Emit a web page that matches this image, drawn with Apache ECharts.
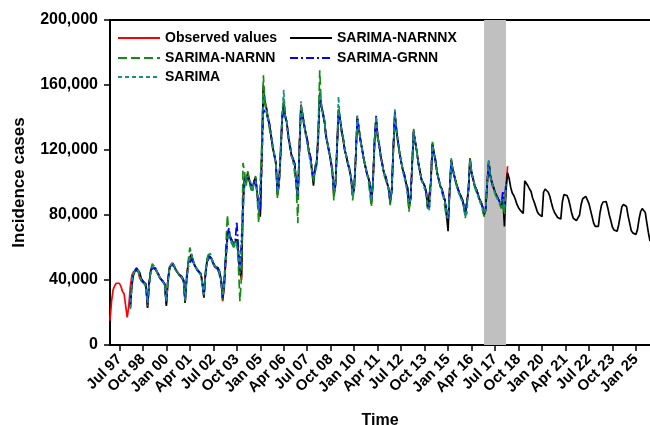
<!DOCTYPE html>
<html>
<head>
<meta charset="utf-8">
<title>Incidence cases</title>
<script src="https://cdn.jsdelivr.net/npm/echarts@6/dist/echarts.min.js"></script>
<style>
  html, body { margin: 0; padding: 0; background: #fff; }
  #chart { width: 650px; height: 425px; }
</style>
</head>
<body>
<div id="chart"></div>
<script>
//--------------------data------------------------------
var monthNames = ['Jan','Feb','Mar','Apr','May','Jun','Jul','Aug','Sep','Oct','Nov','Dec'];
var tickLabels = ['Jul 97','Oct 98','Jan 00','Apr 01','Jul 02','Oct 03','Jan 05','Apr 06','Jul 07',
  'Oct 08','Jan 10','Apr 11','Jul 12','Oct 13','Jan 15','Apr 16','Jul 17','Oct 18','Jan 20',
  'Apr 21','Jul 22','Oct 23','Jan 25'];
var testStart = 'Dec 16';
var testEnd = 'Feb 18';

// observed, Jan 1997 - Mar 2018
var observed = [
  15000, 27000, 34000, 36500, 38000, 38500, 38000, 36000, 33000, 31500, 31000, 17000,
  24000, 36000, 43000, 45000, 46000, 46500, 45000, 41000, 39500, 38500, 38000, 36000,
  23000, 38000, 45000, 47500, 48500, 47000, 45000, 43500, 41000, 40500, 39000, 37500,
  25000, 40000, 47000, 49000, 50500, 48500, 46500, 45500, 43500, 42500, 42000, 40000,
  26000, 42000, 50000, 53000, 55500, 52000, 49000, 47500, 46000, 45500, 44000, 38000,
  29000, 44000, 52000, 54500, 55500, 53000, 50000, 48500, 48000, 47000, 46000, 40000,
  27000, 36000, 52000, 65000, 70000, 66000, 64000, 62000, 63500, 65000, 58000, 45000,
  40000, 88000, 104000, 100000, 105000, 106000, 98000, 96000, 100000, 103000, 94000, 84000,
  80000, 118000, 158000, 150000, 146000, 140000, 136000, 128000, 122000, 117000, 112000, 92000,
  100000, 118000, 140000, 150000, 141000, 137000, 128000, 123000, 117000, 115000, 111000, 100000,
  90000, 122000, 148000, 142000, 136000, 130000, 127000, 119000, 116000, 108000, 102000, 108000,
  112000, 128000, 155000, 148000, 143000, 138000, 129000, 124000, 119000, 114000, 108000, 92000,
  98000, 120000, 145000, 139000, 132000, 127000, 120000, 116000, 112000, 108000, 103000, 93000,
  96000, 115000, 140000, 133000, 126000, 121000, 115000, 111000, 106000, 103000, 100000, 88000,
  100000, 125000, 140000, 128000, 123000, 116000, 111000, 106000, 104000, 100000, 96000, 88000,
  95000, 120000, 143000, 132000, 125000, 118000, 113000, 108000, 105000, 100000, 97000, 86000,
  90000, 110000, 132000, 125000, 119000, 112000, 107000, 102000, 100000, 98000, 94000, 85000,
  84000, 100000, 124000, 118000, 113000, 106000, 102000, 98000, 96000, 92000, 89000, 80000,
  76000, 95000, 114000, 108000, 104000, 100000, 97000, 94000, 92000, 90000, 86000, 80000,
  80000, 95000, 115000, 106000, 102000, 98000, 96000, 93000, 90000, 88000, 85000, 80000,
  84000, 100000, 113000, 104000, 100000, 97000, 94000, 92000, 90000, 88000, 85000, 92000,
  84000, 98000, 110000
];

// fitted models start Feb 1998
var fitStart = 13;

var sarima = [
  22000, 40000, 44000, 45500, 46500, 46000, 42500, 40000, 39000, 38000, 36500,
  26000, 36000, 44000, 47000, 49000, 47500, 45500, 43000, 41500, 40000, 39500, 37000,
  27000, 38000, 46000, 49500, 51000, 49000, 47000, 45000, 44000, 43000, 41500, 39000,
  28000, 40000, 49000, 54000, 56000, 53000, 49500, 48000, 46500, 45000, 43500, 37000,
  31000, 42000, 51000, 55000, 56500, 53500, 50500, 49000, 47500, 46500, 45000, 39000,
  30000, 38000, 50000, 64000, 69000, 67000, 63000, 61000, 64000, 63000, 57000, 44000,
  44000, 80000, 102000, 102000, 104000, 104000, 100000, 95000, 99000, 101000, 95000, 82000,
  82000, 112000, 155000, 152000, 144000, 141000, 134000, 130000, 121000, 118000, 110000, 94000,
  98000, 122000, 142000, 157000, 140000, 138000, 127000, 124000, 116000, 116000, 110000, 99000,
  92000, 120000, 150000, 141000, 137000, 129000, 128000, 118000, 117000, 107000, 104000, 106000,
  110000, 130000, 156000, 149000, 141000, 139000, 127000, 125000, 118000, 115000, 106000, 94000,
  97000, 122000, 153000, 138000, 133000, 126000, 121000, 115000, 113000, 107000, 104000, 92000,
  95000, 117000, 141000, 134000, 125000, 122000, 114000, 112000, 105000, 104000, 99000, 89000,
  98000, 124000, 141000, 129000, 122000, 117000, 110000, 107000, 103000, 101000, 95000, 89000,
  94000, 121000, 145000, 131000, 126000, 117000, 114000, 107000, 106000, 99000, 98000, 87000,
  89000, 112000, 131000, 126000, 118000, 113000, 106000, 103000, 99000, 99000, 93000, 86000,
  83000, 102000, 123000, 119000, 112000, 107000, 101000, 99000, 95000, 93000, 88000, 81000,
  78000, 94000, 115000, 107000, 105000, 99000, 98000, 93000, 93000, 89000, 87000, 79000,
  81000, 96000, 114000, 107000, 101000, 99000, 95000, 94000, 89000, 89000, 84000, 81000,
  83000, 102000, 114000, 103000, 101000, 96000, 95000, 91000, 91000, 87000, 86000, 90000,
  85000, 96000
];

var narnn = [
  23000, 39000, 45000, 46000, 47000, 45500, 42000, 39500, 38500, 37500, 35500,
  24000, 37000, 46000, 50000, 49000, 47000, 44500, 43000, 40500, 40000, 38500, 37000,
  25500, 39500, 48000, 50500, 51000, 48000, 46000, 45000, 43000, 42000, 41500, 39000,
  27000, 43000, 52000, 60000, 56000, 51500, 48500, 47000, 45500, 45000, 43000, 37000,
  30000, 45000, 53000, 56000, 55000, 52500, 49500, 48000, 47500, 46500, 45500, 39000,
  28000, 40000, 60000, 80000, 68000, 64000, 62000, 60000, 62000, 64000, 50000, 27000,
  42000, 112000, 106000, 98000, 107000, 108000, 96000, 94000, 101000, 104000, 92000, 75000,
  76000, 125000, 166000, 148000, 147000, 138000, 137000, 127000, 123000, 116000, 113000, 90000,
  99000, 116000, 138000, 152000, 142000, 136000, 129000, 121000, 118000, 113000, 112000, 98000,
  75000, 124000, 146000, 143000, 135000, 131000, 126000, 120000, 115000, 109000, 100000, 110000,
  113000, 132000, 169000, 146000, 144000, 137000, 130000, 123000, 120000, 113000, 109000, 89000,
  99000, 118000, 146000, 140000, 131000, 128000, 119000, 117000, 111000, 109000, 102000, 89000,
  97000, 114000, 138000, 134000, 127000, 120000, 116000, 110000, 107000, 102000, 101000, 85000,
  101000, 126000, 139000, 127000, 124000, 115000, 112000, 105000, 105000, 99000, 97000, 86000,
  96000, 119000, 142000, 133000, 124000, 119000, 112000, 109000, 104000, 101000, 96000, 82000,
  91000, 109000, 133000, 124000, 120000, 111000, 108000, 101000, 101000, 97000, 95000, 83000,
  85000, 99000, 125000, 117000, 114000, 105000, 103000, 97000, 97000, 91000, 90000, 78000,
  80000, 94000, 113000, 109000, 103000, 101000, 96000, 95000, 91000, 91000, 85000, 78000,
  79000, 97000, 116000, 105000, 103000, 97000, 97000, 92000, 91000, 87000, 86000, 79000,
  82000, 101000, 112000, 105000, 99000, 98000, 93000, 93000, 89000, 89000, 84000, 88000,
  80000, 99000
];

var grnn = [
  25000, 38000, 44000, 46000, 47500, 47000, 44000, 40500, 39000, 38000, 37000,
  25000, 37000, 45000, 47000, 48000, 47500, 45500, 43000, 41500, 40000, 39000, 37500,
  26000, 39000, 46500, 48500, 50000, 49000, 47000, 45000, 44000, 42500, 41500, 39500,
  27500, 41000, 48000, 50000, 53000, 51000, 49000, 47000, 46000, 45000, 43500, 38500,
  30000, 43000, 50000, 53000, 54500, 52500, 50000, 48000, 47500, 46500, 45500, 40500,
  29000, 40000, 55000, 68000, 72000, 65000, 63000, 62000, 64000, 76000, 60000, 46000,
  45000, 84000, 100000, 101000, 103000, 104000, 99000, 97000, 99000, 102000, 95000, 85000,
  83000, 110000, 145000, 146000, 142000, 139000, 135000, 129000, 121000, 117000, 111000, 95000,
  101000, 117000, 138000, 146000, 140000, 136000, 128000, 122000, 117000, 114000, 111000, 101000,
  92000, 118000, 143000, 141000, 135000, 130000, 126000, 120000, 116000, 109000, 103000, 107000,
  111000, 126000, 149000, 147000, 142000, 137000, 129000, 124000, 118000, 114000, 108000, 95000,
  99000, 119000, 144000, 139000, 131000, 127000, 120000, 116000, 112000, 108000, 103000, 94000,
  97000, 116000, 141000, 133000, 126000, 121000, 115000, 111000, 106000, 103000, 100000, 90000,
  99000, 124000, 141000, 129000, 123000, 116000, 111000, 106000, 104000, 100000, 96000, 89000,
  95000, 121000, 144000, 132000, 125000, 118000, 113000, 108000, 105000, 100000, 97000, 88000,
  90000, 111000, 131000, 125000, 119000, 112000, 107000, 102000, 100000, 98000, 94000, 86000,
  84000, 101000, 123000, 118000, 113000, 106000, 102000, 98000, 96000, 92000, 89000, 82000,
  78000, 95000, 113000, 108000, 104000, 100000, 97000, 94000, 92000, 90000, 86000, 81000,
  80000, 96000, 114000, 106000, 102000, 98000, 96000, 93000, 90000, 88000, 85000, 81000,
  84000, 99000, 112000, 104000, 100000, 97000, 94000, 92000, 90000, 88000, 86000, 95000,
  87000, 100000
];

// fitted Feb 1998 - Feb 2018, then forecast Mar 2018 - Oct 2025
var narnnx = [
  23000, 37000, 43000, 45500, 46500, 46000, 44500, 41000, 39500, 38500, 37500,
  23000, 38000, 46000, 48000, 48500, 46500, 45000, 43500, 41000, 40000, 39000, 37000,
  24000, 40000, 47500, 49500, 50000, 48500, 46000, 45500, 43500, 43000, 42000, 40000,
  26000, 41000, 51000, 54000, 56000, 52000, 49500, 47500, 46000, 45000, 44000, 39000,
  29500, 44000, 52000, 55000, 56000, 53000, 50500, 48500, 48000, 47500, 45500, 40000,
  28000, 37000, 54000, 66000, 70000, 66000, 64500, 62000, 63000, 65000, 56000, 44000,
  42000, 90000, 103000, 101000, 106000, 105000, 97000, 95000, 101000, 103000, 93000, 83000,
  79000, 120000, 160000, 149000, 145000, 139000, 135000, 128000, 121000, 117000, 112000, 93000,
  99000, 119000, 141000, 149000, 141000, 137000, 127000, 123000, 116000, 115000, 112000, 99000,
  90000, 121000, 147000, 142000, 136000, 131000, 126000, 119000, 116000, 107000, 98000, 109000,
  112000, 129000, 154000, 147000, 143000, 138000, 128000, 124000, 119000, 113000, 107000, 93000,
  98000, 121000, 144000, 139000, 132000, 126000, 120000, 116000, 111000, 108000, 103000, 92000,
  96000, 116000, 140000, 133000, 126000, 121000, 115000, 110000, 106000, 103000, 99000, 87000,
  100000, 125000, 140000, 128000, 123000, 116000, 111000, 106000, 104000, 100000, 96000, 87000,
  95000, 120000, 142000, 132000, 125000, 118000, 113000, 108000, 105000, 100000, 97000, 84000,
  90000, 110000, 131000, 125000, 119000, 112000, 107000, 102000, 100000, 98000, 94000, 84000,
  84000, 100000, 124000, 118000, 113000, 106000, 102000, 98000, 96000, 92000, 89000, 80000,
  70000, 95000, 114000, 108000, 104000, 100000, 97000, 94000, 92000, 90000, 86000, 80000,
  79000, 95000, 114000, 106000, 102000, 98000, 96000, 93000, 90000, 88000, 85000, 80000,
  83000, 100000, 113000, 104000, 100000, 97000, 94000, 92000, 90000, 88000, 85000, 90000,
  73000, 95000,
  106000, 102500, 97000, 93500, 92000, 89500, 86500, 84500, 83000, 82000,
  81000, 101000, 100500, 98000, 96000, 94500, 90500, 88000, 85000, 82000, 80500, 79500,
  79000, 94000, 96000, 95500, 94000, 91500, 87500, 84000, 81500, 80000, 78500, 78000,
  77500, 88000, 92500, 93500, 92000, 89500, 85500, 81000, 78000, 77000, 76500, 76000,
  80000, 86500, 90000, 91000, 91500, 90500, 87000, 83000, 79000, 75000, 73000, 72800,
  73000, 81000, 86000, 88000, 88300, 88300, 84500, 80000, 76500, 72500, 70800, 70200,
  70000, 74000, 79500, 85000, 86500, 87300, 85200, 79500, 75000, 70500, 69000, 68000,
  68000, 71000, 77500, 82000, 84000, 83500, 81500, 75000, 69000, 64000
];

//--------------------categories------------------------------
var categories = [];
for (var y = 1997; y <= 2025; y++) {
  for (var m = 0; m < 12; m++) {
    if (y === 2025 && m > 9) break;
    categories.push(monthNames[m] + ' ' + String(y).slice(2));
  }
}

function pad(n, arr) {
  var out = [];
  for (var i = 0; i < n; i++) out.push(null);
  return out.concat(arr);
}

function showTick(index, value) {
  return tickLabels.indexOf(value) >= 0;
}

//--------------------echarts------------------------------
var font = 'Liberation Sans, Arial, sans-serif';
var mychart = echarts.init(document.getElementById('chart'));

function legendAt(name, left, top) {
  return {
    data: [name],
    left: left,
    top: top,
    itemWidth: 42,
    itemHeight: 14,
    itemStyle: { opacity: 0 },
    selectedMode: false,
    textStyle: { fontFamily: font, fontSize: 14, fontWeight: 'bold', color: '#000' }
  };
}

function lineSeries(name, data, color, type, z) {
  return {
    name: name,
    type: 'line',
    data: data,
    symbol: 'none',
    connectNulls: false,
    z: z,
    lineStyle: { color: color, width: 1.7, type: type },
    itemStyle: { color: color }
  };
}

var option = {
  animation: false,
  backgroundColor: '#fff',
  grid: { left: 110, right: 0, top: 20, bottom: 80, containLabel: false, outerBoundsMode: 'none' },
  legend: [
    legendAt('Observed values', 112, 26),
    legendAt('SARIMA-NARNNX', 284, 26),
    legendAt('SARIMA-NARNN', 112, 46),
    legendAt('SARIMA-GRNN', 284, 46),
    legendAt('SARIMA', 112, 65)
  ],
  xAxis: [{
    type: 'category',
    data: categories,
    boundaryGap: false,
    name: 'Time',
    nameLocation: 'middle',
    nameGap: 68,
    nameTextStyle: { fontFamily: font, fontSize: 16, fontWeight: 'bold', color: '#000' },
    axisLine: { lineStyle: { color: '#000', width: 2 } },
    axisTick: { interval: showTick, length: 6, lineStyle: { color: '#000', width: 1.5 } },
    axisLabel: {
      interval: showTick,
      rotate: 45,
      margin: 12,
      fontFamily: font,
      fontSize: 15,
      fontWeight: 'bold',
      color: '#000'
    },
    splitLine: { show: false }
  }, {
    type: 'category',
    data: categories,
    boundaryGap: false,
    position: 'top',
    axisLine: { lineStyle: { color: '#000', width: 2 } },
    axisTick: { show: false },
    axisLabel: { show: false }
  }],
  yAxis: {
    type: 'value',
    min: 0,
    max: 200000,
    interval: 40000,
    name: 'Incidence cases',
    nameLocation: 'middle',
    nameGap: 82,
    nameTextStyle: { fontFamily: font, fontSize: 17, fontWeight: 'bold', color: '#000' },
    axisLine: { show: true, lineStyle: { color: '#000', width: 2 } },
    axisTick: { show: true, length: 6, lineStyle: { color: '#000', width: 1.5 } },
    axisLabel: {
      margin: 12,
      fontFamily: font,
      fontSize: 16,
      fontWeight: 'bold',
      color: '#000',
      formatter: function (v) { return v.toLocaleString('en-US'); }
    },
    splitLine: { show: false }
  },
  series: [
    {
      name: 'band',
      type: 'line',
      data: [],
      z: 1,
      silent: true,
      markArea: {
        silent: true,
        itemStyle: { color: '#c0c0c0', opacity: 1 },
        data: [[{ xAxis: testStart }, { xAxis: testEnd }]]
      }
    },
    lineSeries('Observed values', observed, '#ff0000', 'solid', 2),
    lineSeries('SARIMA-NARNNX', pad(fitStart, narnnx), '#000000', 'solid', 3),
    lineSeries('SARIMA-NARNN', pad(fitStart, narnn), '#128c12', [9, 4], 4),
    lineSeries('SARIMA-GRNN', pad(fitStart, grnn), '#0000ff', [8, 3, 2, 3], 5),
    lineSeries('SARIMA', pad(fitStart, sarima), '#1a8f8a', [4, 3], 6)
  ]
};
mychart.setOption(option);
//--------------------echarts end------------------------------
</script>
</body>
</html>
